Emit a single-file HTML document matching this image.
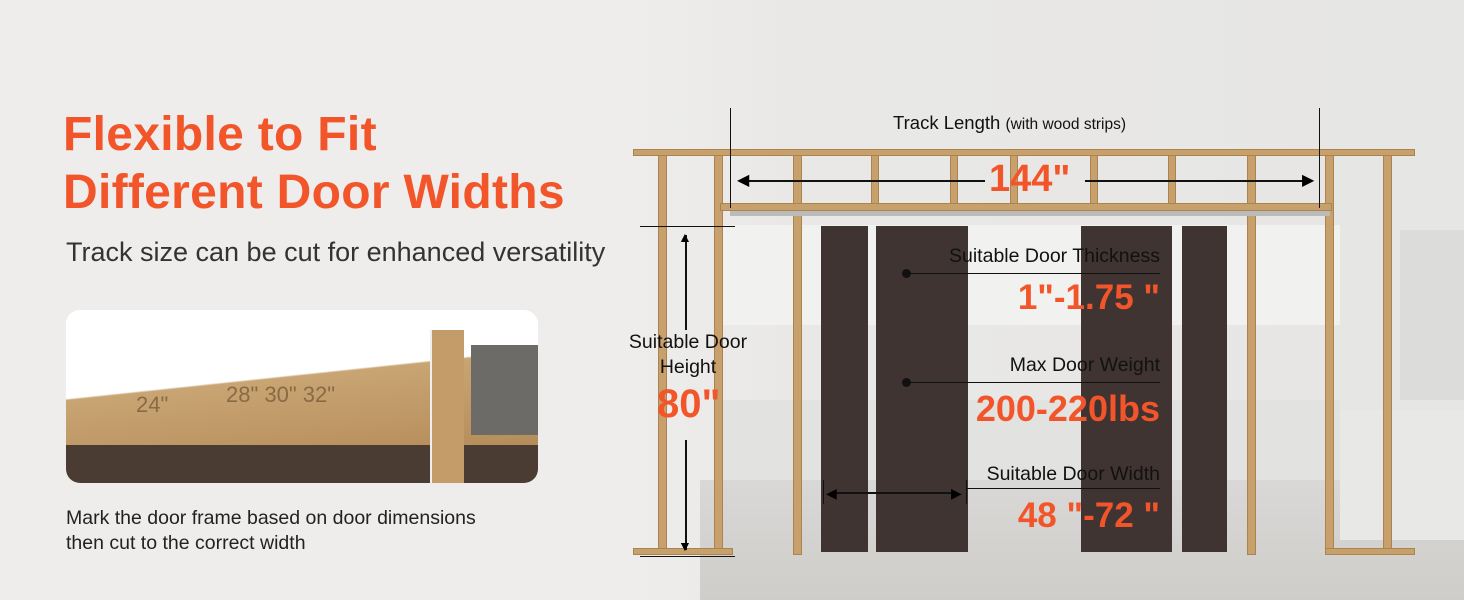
<!DOCTYPE html>
<html><head><meta charset="utf-8"><style>
*{margin:0;padding:0;box-sizing:border-box}
body{width:1464px;height:600px;overflow:hidden;position:relative;background:#eeedeb;font-family:"Liberation Sans",sans-serif}
.a{position:absolute}
.wood{position:absolute;background:#c7a06c;border:1px solid #a98450}
.door{position:absolute;background:#3f3431}
.t{position:absolute;white-space:nowrap}
.r{position:absolute;white-space:nowrap;right:304px;text-align:right}
.o{color:#f2552a;font-weight:bold}
.line{position:absolute;background:#111}
</style></head><body>
<div class="a" style="left:630px;top:0;width:834px;height:600px;background:linear-gradient(90deg,#eeedeb 0%,#e9e8e6 20%,#e6e6e5 100%)"></div>
<div class="a" style="left:720px;top:225px;width:620px;height:100px;background:#f1f1ef"></div>
<div class="a" style="left:720px;top:400px;width:620px;height:80px;background:#e2e2e0"></div>
<div class="a" style="left:700px;top:480px;width:764px;height:120px;background:linear-gradient(#d9d8d6,#cfcdca)"></div>
<div class="a" style="left:1400px;top:230px;width:64px;height:170px;background:#dcdcda"></div>
<div class="a" style="left:1340px;top:410px;width:124px;height:130px;background:#e8e8e6"></div>

<div class="t o" style="left:63px;top:106px;font-size:48px;line-height:58px;letter-spacing:0.3px">Flexible to Fit<br>Different Door Widths</div>
<div class="t" style="left:66px;top:237px;font-size:27px;color:#333">Track size can be cut for enhanced versatility</div>

<div class="a" style="left:66px;top:310px;width:472px;height:173px;border-radius:14px;overflow:hidden;background:#f8f8f7">
 <div class="a" style="left:0;top:0;width:472px;height:135px;background:linear-gradient(174deg,#ffffff 48%,#c9a574 49%,#b58d5a 100%)"></div>
 <div class="a" style="left:0;top:135px;width:472px;height:38px;background:#4a3b33"></div>
 <div class="a" style="left:364px;top:20px;width:34px;height:153px;background:#c39c69;border-left:2px solid #eee"></div>
 <div class="a" style="left:405px;top:35px;width:67px;height:90px;background:#6d6b68"></div>
 <div class="t" style="left:70px;top:82px;font-size:22px;color:#8a6a45">24"</div>
 <div class="t" style="left:160px;top:72px;font-size:22px;color:#8a6a45">28" 30" 32"</div>
</div>
<div class="t" style="left:66px;top:506px;font-size:19.5px;line-height:25px;color:#222">Mark the door frame based on door dimensions<br>then cut to the correct width</div>

<div class="wood" style="left:658px;top:150px;width:9px;height:405px"></div>
<div class="wood" style="left:714px;top:150px;width:9px;height:405px"></div>
<div class="wood" style="left:793px;top:150px;width:9px;height:405px"></div>
<div class="wood" style="left:871px;top:150px;width:8px;height:60px"></div>
<div class="wood" style="left:950px;top:150px;width:8px;height:60px"></div>
<div class="wood" style="left:1010px;top:150px;width:8px;height:60px"></div>
<div class="wood" style="left:1090px;top:150px;width:8px;height:60px"></div>
<div class="wood" style="left:1168px;top:150px;width:8px;height:60px"></div>
<div class="wood" style="left:1247px;top:150px;width:9px;height:405px"></div>
<div class="wood" style="left:1325px;top:150px;width:9px;height:405px"></div>
<div class="wood" style="left:1383px;top:150px;width:9px;height:405px"></div>
<div class="wood" style="left:633px;top:149px;width:782px;height:7px"></div>
<div class="wood" style="left:720px;top:203px;width:612px;height:8px"></div>
<div class="wood" style="left:633px;top:548px;width:100px;height:7px"></div>
<div class="wood" style="left:1325px;top:548px;width:90px;height:7px"></div>
<div class="a" style="left:730px;top:211px;width:600px;height:5px;background:#bbb"></div>

<div class="door" style="left:821px;top:226px;width:47px;height:326px"></div>
<div class="door" style="left:876px;top:226px;width:92px;height:326px"></div>
<div class="door" style="left:1081px;top:226px;width:91px;height:326px"></div>
<div class="door" style="left:1182px;top:226px;width:45px;height:326px"></div>

<div class="line" style="left:730px;top:108px;width:1px;height:100px"></div>
<div class="line" style="left:1319px;top:108px;width:1px;height:100px"></div>
<div class="t" style="left:893px;top:112px;font-size:18.5px;color:#111">Track Length <span style="font-size:15.5px">(with wood strips)</span></div>
<div class="line" style="left:745px;top:180px;width:240px;height:2px"></div>
<div class="line" style="left:1085px;top:180px;width:220px;height:2px"></div>
<div class="t" style="left:737px;top:173px;font-size:16px;line-height:16px">◀</div>
<div class="t" style="left:1302px;top:173px;font-size:16px;line-height:16px">▶</div>
<div class="t o" style="left:989px;top:158px;font-size:38px">144"</div>

<div class="line" style="left:640px;top:226px;width:95px;height:1px"></div>
<div class="line" style="left:640px;top:556px;width:95px;height:1px"></div>
<div class="line" style="left:685px;top:235px;width:2px;height:95px"></div>
<div class="line" style="left:685px;top:440px;width:2px;height:110px"></div>
<div class="t" style="left:678px;top:229px;font-size:14px">▲</div>
<div class="t" style="left:678px;top:538px;font-size:14px">▼</div>
<div class="t" style="left:628px;top:330px;font-size:19.5px;line-height:25px;text-align:center;color:#111;width:120px">Suitable Door<br>Height</div>
<div class="t o" style="left:657px;top:382px;font-size:40px">80"</div>

<div class="r" style="top:245px;font-size:19.5px;color:#111">Suitable Door Thickness</div>
<div class="a" style="left:902px;top:269px;width:9px;height:9px;border-radius:50%;background:#111"></div>
<div class="line" style="left:906px;top:273px;width:254px;height:1px"></div>
<div class="r" style="top:278px;font-size:35px;color:#f2552a;font-weight:bold">1"-1.75 "</div>
<div class="r" style="top:354px;font-size:19.5px;color:#111">Max Door Weight</div>
<div class="a" style="left:902px;top:378px;width:9px;height:9px;border-radius:50%;background:#111"></div>
<div class="line" style="left:906px;top:382px;width:254px;height:1px"></div>
<div class="r" style="top:388px;font-size:36px;color:#f2552a;font-weight:bold">200-220lbs</div>
<div class="r" style="top:463px;font-size:19.5px;color:#111">Suitable Door Width</div>
<div class="line" style="left:966px;top:488px;width:194px;height:1px"></div>
<div class="line" style="left:823px;top:480px;width:1px;height:24px"></div>
<div class="line" style="left:966px;top:480px;width:1px;height:24px"></div>
<div class="line" style="left:833px;top:492px;width:122px;height:2px"></div>
<div class="t" style="left:826px;top:485px;font-size:14px">◀</div>
<div class="t" style="left:951px;top:485px;font-size:14px">▶</div>
<div class="r" style="top:496px;font-size:35px;color:#f2552a;font-weight:bold">48 "-72 "</div>
</body></html>
